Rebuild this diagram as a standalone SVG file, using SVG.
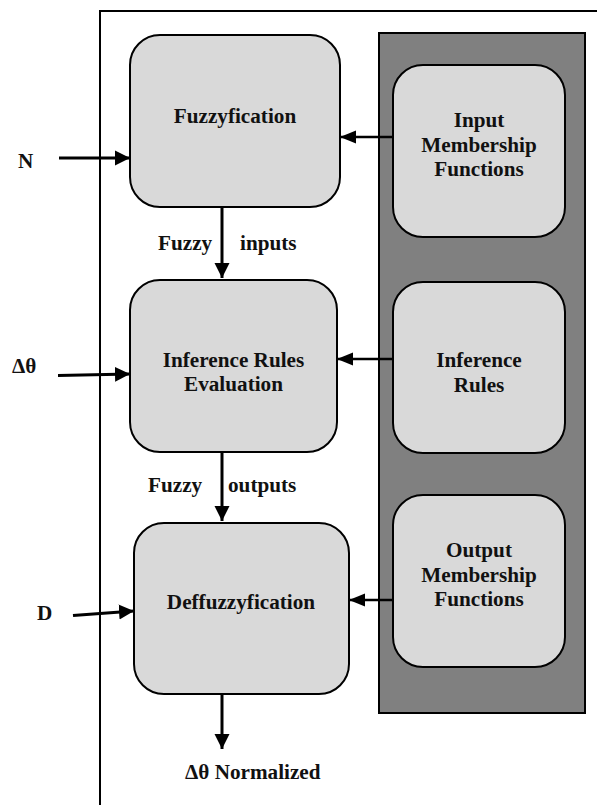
<svg xmlns="http://www.w3.org/2000/svg" width="597" height="805" viewBox="0 0 597 805">
<style>
.box{fill:#d9d9d9;stroke:#000;stroke-width:2}
.t{font-family:"Liberation Serif","Times New Roman",serif;font-weight:bold;font-size:21.2px;fill:#111}
.c{stroke:#000;stroke-width:3;fill:none}
.cs{stroke:#000;stroke-width:2.5;fill:none}
</style>
<defs>
<marker id="ah" markerUnits="userSpaceOnUse" markerWidth="16" markerHeight="16" viewBox="0 0 16 16" refX="15" refY="8" orient="auto"><path d="M0,0.5 L15,8 L0,15.5 Z" fill="#000"/></marker>
<marker id="ahs" markerUnits="userSpaceOnUse" markerWidth="16" markerHeight="14" viewBox="0 0 16 14" refX="16" refY="7" orient="auto"><path d="M0,0.5 L16,7 L0,13.5 Z" fill="#000"/></marker>
</defs>
<rect x="0" y="0" width="597" height="805" fill="#fff"/>
<g id="frame"><path d="M100,805 L100,11 L597,11" fill="none" stroke="#000" stroke-width="2"/></g>
<g id="panel"><rect x="379" y="33" width="206" height="680" fill="#808080" stroke="#000" stroke-width="2"/></g>
<g id="fuzzyfication"><rect class="box" x="130" y="35" width="210" height="172" rx="30"/><text class="t" x="235" y="123" text-anchor="middle">Fuzzyfication</text></g>
<g id="input-mf"><rect class="box" x="393" y="65" width="172" height="172" rx="30"/><text class="t" x="479" y="127" text-anchor="middle">Input</text><text class="t" x="479" y="152" text-anchor="middle">Membership</text><text class="t" x="479" y="176" text-anchor="middle">Functions</text></g>
<g id="inference-eval"><rect class="box" x="130" y="280" width="207" height="172" rx="30"/><text class="t" x="233.5" y="367" text-anchor="middle">Inference Rules</text><text class="t" x="233.5" y="391" text-anchor="middle">Evaluation</text></g>
<g id="inference-rules"><rect class="box" x="393" y="282" width="172" height="171" rx="30"/><text class="t" x="479" y="367" text-anchor="middle">Inference</text><text class="t" x="479" y="392" text-anchor="middle">Rules</text></g>
<g id="defuzzyfication"><rect class="box" x="134" y="523" width="215" height="171" rx="30"/><text class="t" x="241" y="609" text-anchor="middle">Deffuzzyfication</text></g>
<g id="output-mf"><rect class="box" x="393" y="495" width="172" height="172" rx="30"/><text class="t" x="479" y="557" text-anchor="middle">Output</text><text class="t" x="479" y="582" text-anchor="middle">Membership</text><text class="t" x="479" y="606" text-anchor="middle">Functions</text></g>
<g id="connectors">
<line class="c" x1="59" y1="158" x2="130" y2="158" marker-end="url(#ah)"/>
<line class="c" x1="58" y1="375.5" x2="130" y2="374" marker-end="url(#ah)"/>
<line class="c" x1="73" y1="615.5" x2="134" y2="611" marker-end="url(#ah)"/>
<line class="c" x1="222" y1="207" x2="222" y2="278" marker-end="url(#ah)"/>
<line class="c" x1="222" y1="452" x2="222" y2="521" marker-end="url(#ah)"/>
<line class="c" x1="222" y1="694" x2="222" y2="749" marker-end="url(#ah)"/>
<line class="cs" x1="393" y1="137" x2="340" y2="137" marker-end="url(#ahs)"/>
<line class="cs" x1="393" y1="359" x2="337" y2="359" marker-end="url(#ahs)"/>
<line class="cs" x1="393" y1="600" x2="349" y2="600" marker-end="url(#ahs)"/>
</g>
<g id="labels">
<text class="t" x="18" y="168">N</text>
<text class="t" x="12" y="373">Δθ</text>
<text class="t" x="37" y="620">D</text>
<text class="t" x="158" y="250">Fuzzy</text>
<text class="t" x="240" y="250">inputs</text>
<text class="t" x="148" y="492">Fuzzy</text>
<text class="t" x="228" y="492">outputs</text>
<text class="t" x="185" y="779">Δθ Normalized</text>
</g>
</svg>
